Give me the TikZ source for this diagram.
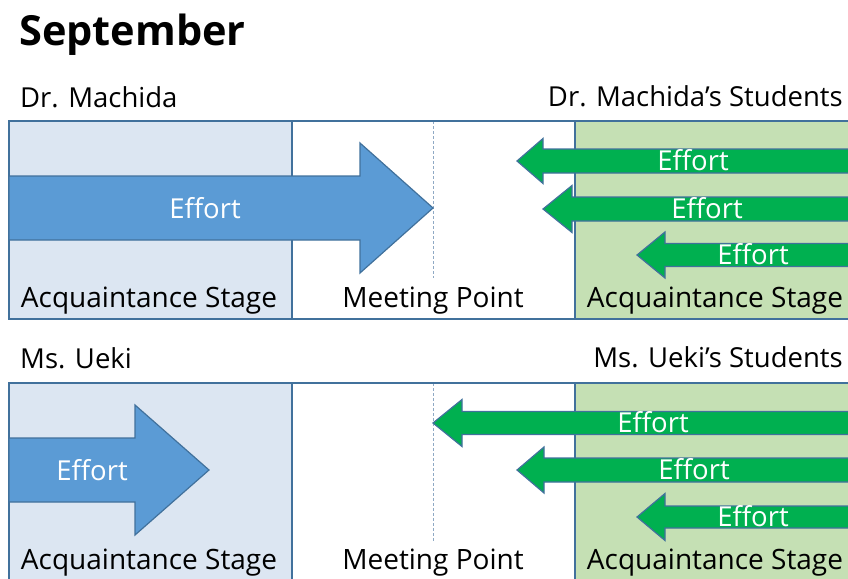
\documentclass[tikz,border=0pt]{standalone}
\usepackage{fontspec}
\setmainfont{Open Sans}
\definecolor{paneblue}{HTML}{DCE6F2}
\definecolor{panegreen}{HTML}{C5E0B4}
\definecolor{frameline}{HTML}{41719C}
\definecolor{arrowblue}{HTML}{5B9BD5}
\definecolor{arrowgreen}{HTML}{00B050}
\definecolor{guide}{HTML}{8FA9C4}
\tikzset{
  pane/.style={draw=frameline, line width=1.5pt},
  divider/.style={draw=frameline, line width=2pt},
  guideline/.style={draw=guide, line width=0.6pt, dash pattern=on 3pt off 2pt},
  bluearrow/.style={fill=arrowblue, draw=frameline, line width=1.2pt, line join=miter},
  greenarrow/.style={fill=arrowgreen, draw=frameline, line width=1.2pt, line join=miter},
  efforttext/.style={text=white, font=\fontsize{27.5}{30}\selectfont, inner sep=0pt},
  stagetext/.style={font=\fontsize{28}{30}\selectfont, inner sep=0pt},
  headtext/.style={font=\fontsize{27.5}{30}\selectfont, inner sep=0pt},
}
% left-pointing block arrow: tip x, centre y, head base x, head half-width, shaft half-width
\newcommand{\leftblock}[5]{%
  \draw[greenarrow] (#1,#2) -- (#3,#2-#4) -- (#3,#2-#5) -- (880,#2-#5)
    -- (880,#2+#5) -- (#3,#2+#5) -- (#3,#2+#4) -- cycle;}
% right-pointing block arrow: tail x, centre y, head base x, head half-width, shaft half-width, tip x
\newcommand{\rightblock}[6]{%
  \draw[bluearrow] (#1,#2-#5) -- (#3,#2-#5) -- (#3,#2-#4) -- (#6,#2)
    -- (#3,#2+#4) -- (#3,#2+#5) -- (#1,#2+#5) -- cycle;}
\begin{document}
\begin{tikzpicture}[x=1pt,y=-1pt]
\useasboundingbox (0,0) rectangle (848,578);
\clip (0,0) rectangle (848,578);

\node[anchor=base west, inner sep=0pt, font=\bfseries\fontsize{41.5}{44}\selectfont] (title) at (19,46) {September};

% ---- upper panel ----
\fill[paneblue] (9,121) rectangle (292,319);
\fill[panegreen] (575,121) rectangle (870,319);
\draw[guideline] (433,121) -- (433,278);
\draw[pane] (9,121) rectangle (870,319);
\node[headtext, anchor=base west] (drm) at (20,107) {Dr. Machida};
\node[headtext, anchor=base east] (drms) at (843,106) {Dr. Machida’s Students};
\draw[divider] (292,121) -- (292,319);
\draw[divider] (575,121) -- (575,319);
\rightblock{9}{208}{360}{65}{32}{433}
\leftblock{517}{161}{543}{22.5}{12}
\leftblock{543}{209}{572}{23.5}{12}
\leftblock{637}{255}{665}{23}{11.5}
\node[efforttext, anchor=base] (e1) at (205,218) {Effort};
\node[efforttext, anchor=base] (e2) at (693,170) {Effort};
\node[efforttext, anchor=base] (e3) at (707,218) {Effort};
\node[efforttext, anchor=base] (e4) at (753,264) {Effort};
\node[stagetext, anchor=base] (s1) at (149,307) {Acquaintance Stage};
\node[stagetext, anchor=base] (m1) at (433,307) {Meeting Point};
\node[stagetext, anchor=base] (s2) at (715,307) {Acquaintance Stage};

% ---- lower panel ----
\fill[paneblue] (9,383) rectangle (292,600);
\fill[panegreen] (575,383) rectangle (870,600);
\draw[guideline] (433,383) -- (433,542);
\draw[pane] (9,383) rectangle (870,600);
\node[headtext, anchor=base west] (msu) at (20,368) {Ms. Ueki};
\node[headtext, anchor=base east] (msus) at (843,367) {Ms. Ueki’s Students};
\draw[divider] (292,383) -- (292,600);
\draw[divider] (575,383) -- (575,600);
\rightblock{9}{470}{135}{65}{32}{209}
\leftblock{433}{423}{462}{23.5}{11.5}
\leftblock{517}{470}{544}{23}{12}
\leftblock{637}{517}{665}{23.5}{11}
\node[efforttext, anchor=base] (e5) at (92,480) {Effort};
\node[efforttext, anchor=base] (e6) at (653,432) {Effort};
\node[efforttext, anchor=base] (e7) at (694,479) {Effort};
\node[efforttext, anchor=base] (e8) at (753,526) {Effort};
\node[stagetext, anchor=base] (s3) at (149,569) {Acquaintance Stage};
\node[stagetext, anchor=base] (m2) at (433,569) {Meeting Point};
\node[stagetext, anchor=base] (s4) at (715,569) {Acquaintance Stage};
\end{tikzpicture}
\end{document}
